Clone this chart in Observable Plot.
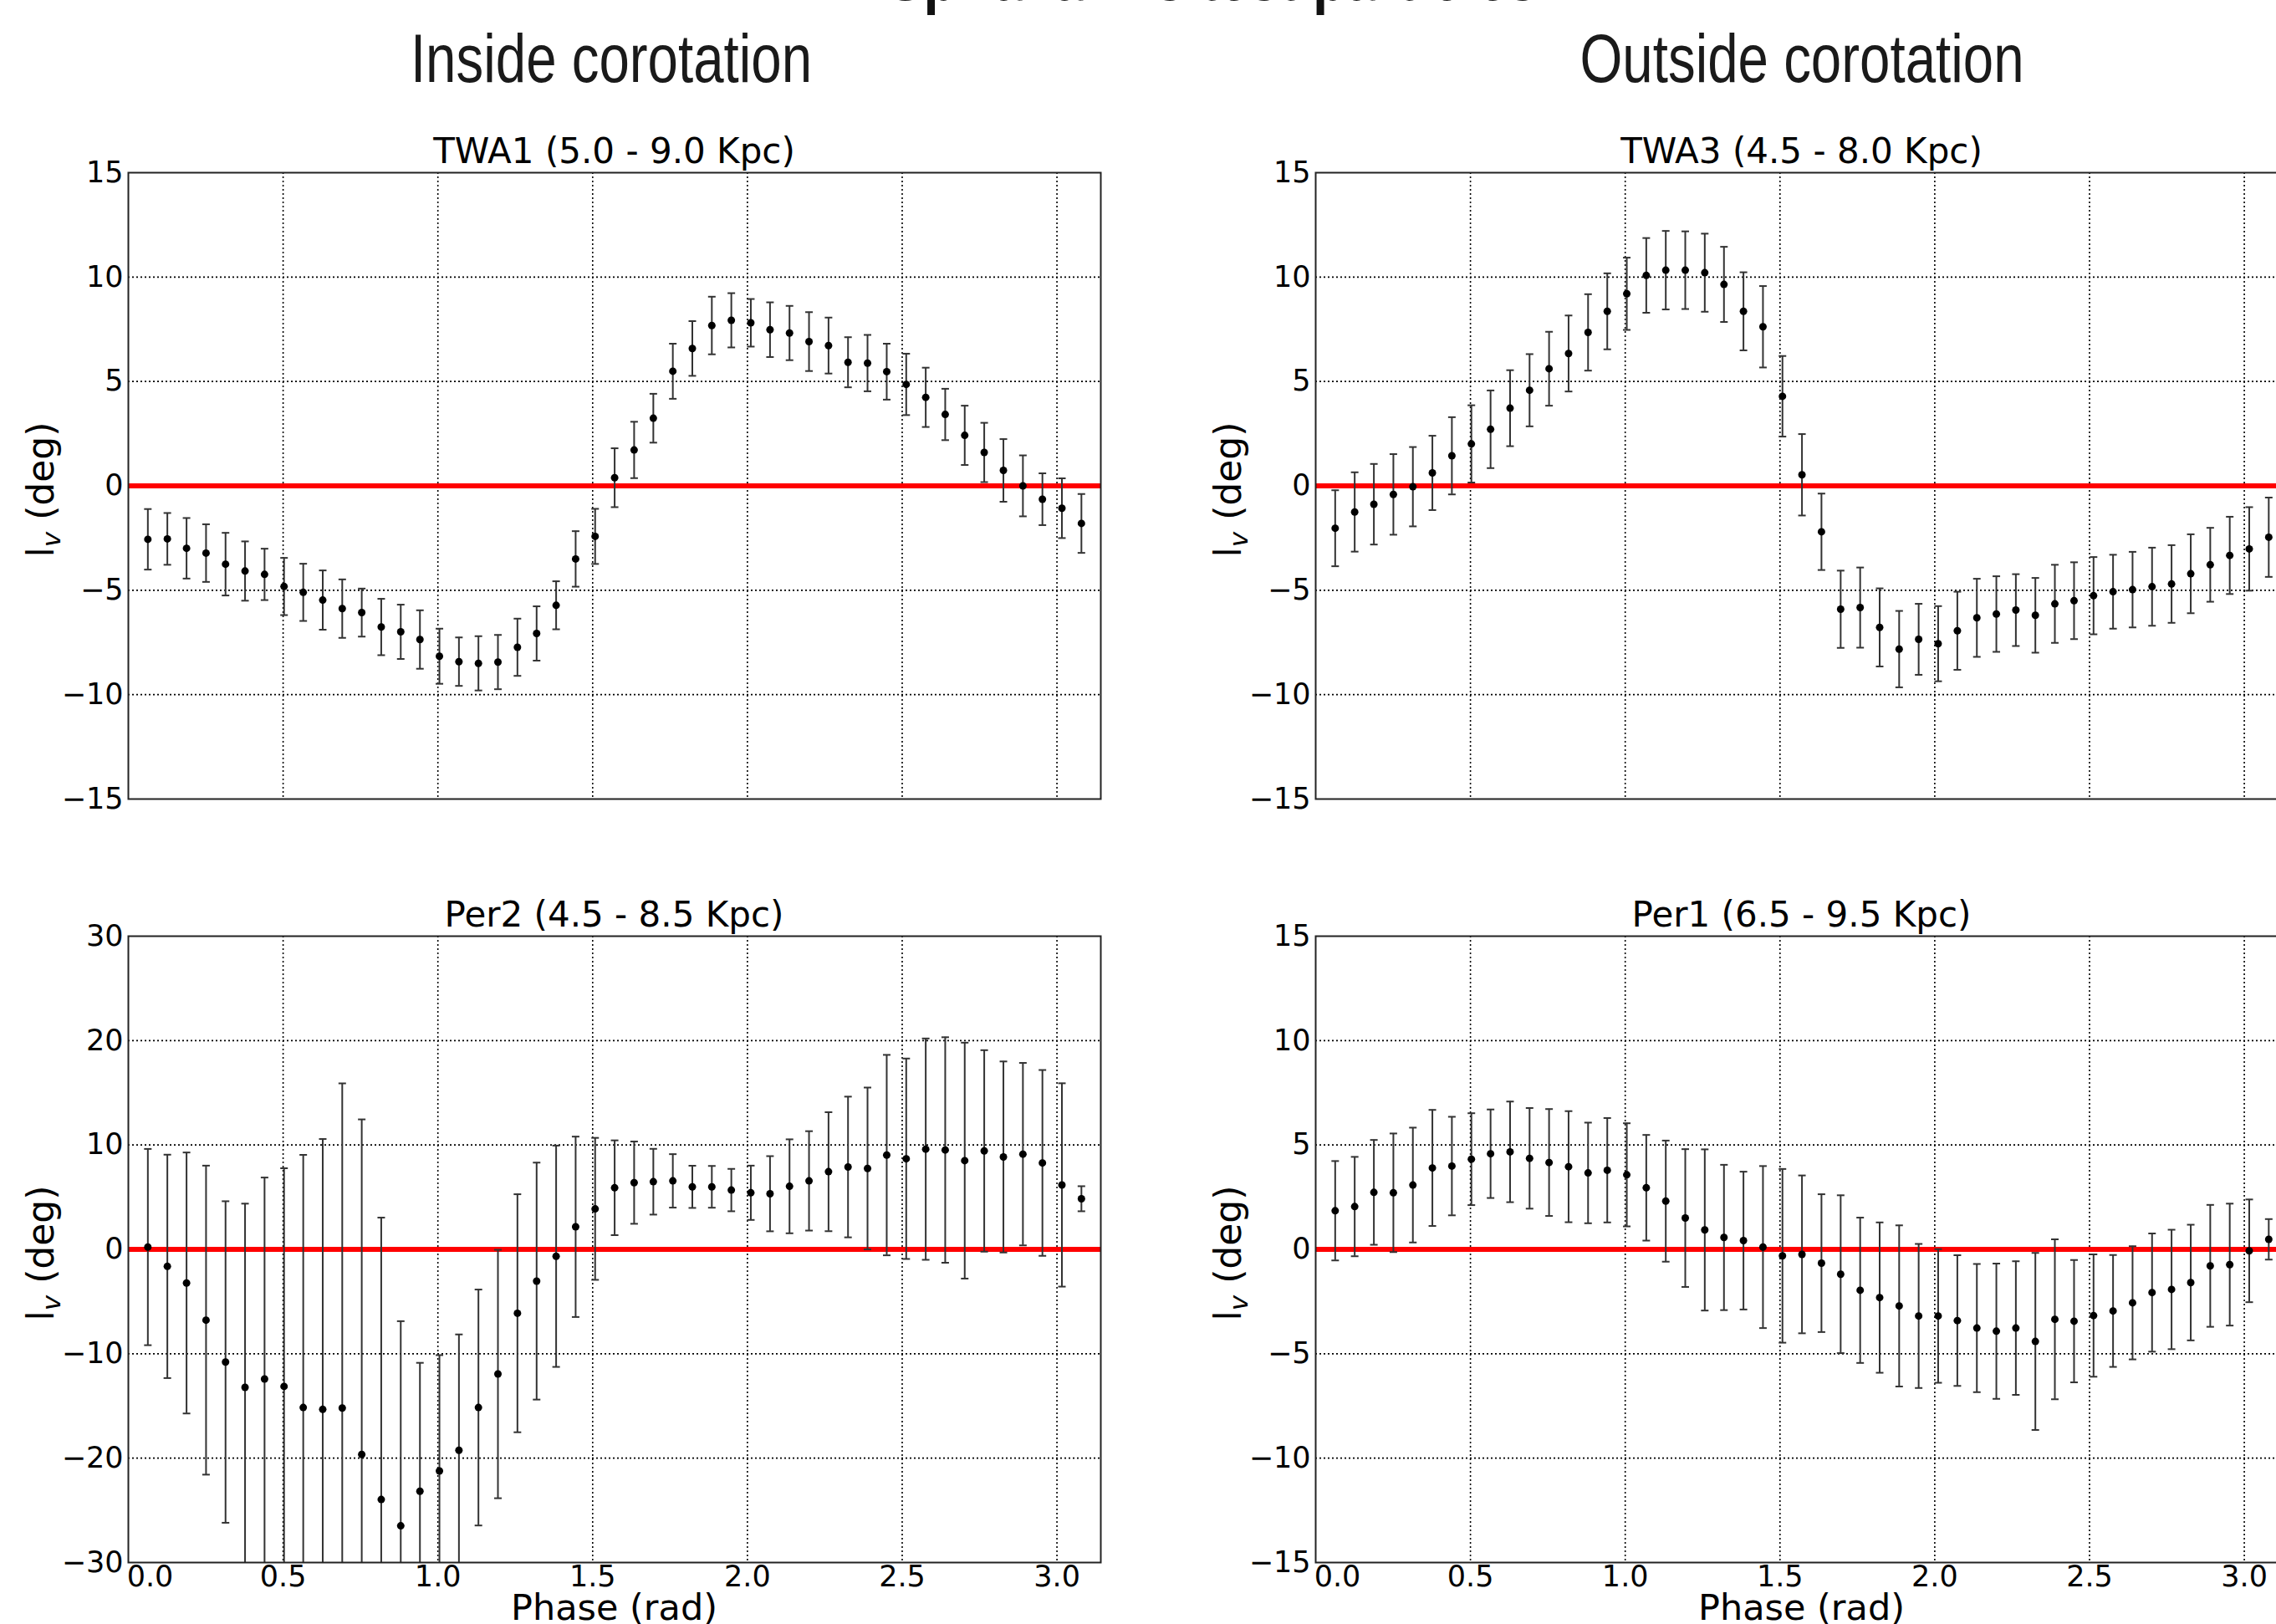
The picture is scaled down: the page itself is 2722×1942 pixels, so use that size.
<!DOCTYPE html>
<html>
<head>
<meta charset="utf-8">
<script src="https://cdn.jsdelivr.net/npm/d3@7"></script>
<script src="https://cdn.jsdelivr.net/npm/@observablehq/plot@0.6"></script>
<style>
  html, body { margin: 0; padding: 0; background: #fff; overflow: hidden; }
  #root { position: relative; width: 2722px; height: 1942px; overflow: hidden; background: #fff; }
  #root > svg { position: absolute; }
</style>
</head>
<body>
<div id="root"></div>
<script>
// ---------- data ----------
const suptitle = "Spiral arms test particles";
const sectionTitles = ["Inside corotation", "Outside corotation"];
const panelTitles = ["TWA1 (5.0 - 9.0 Kpc)", "Per2 (4.5 - 8.5 Kpc)", "TWA3 (4.5 - 8.0 Kpc)", "Per1 (6.5 - 9.5 Kpc)"];
const xLabel = "Phase (rad)";
const xTicks = [0.0, 0.5, 1.0, 1.5, 2.0, 2.5, 3.0];
const yTicks15 = [-15, -10, -5, 0, 5, 10, 15];
const yTicks30 = [-30, -20, -10, 0, 10, 20, 30];

const phase = [0.063, 0.126, 0.188, 0.251, 0.314, 0.377, 0.440, 0.503, 0.565, 0.628,
  0.691, 0.754, 0.817, 0.880, 0.942, 1.005, 1.068, 1.131, 1.194, 1.257,
  1.319, 1.382, 1.445, 1.508, 1.571, 1.634, 1.696, 1.759, 1.822, 1.885,
  1.948, 2.011, 2.073, 2.136, 2.199, 2.262, 2.325, 2.388, 2.450, 2.513,
  2.576, 2.639, 2.702, 2.765, 2.827, 2.890, 2.953, 3.016, 3.079];

const twa1Val = [-2.56, -2.54, -2.99, -3.22, -3.75, -4.08, -4.24, -4.82, -5.10, -5.47,
  -5.88, -6.07, -6.76, -6.99, -7.36, -8.16, -8.42, -8.50, -8.44, -7.73,
  -7.07, -5.72, -3.50, -2.42, 0.39, 1.72, 3.24, 5.49, 6.58, 7.68,
  7.93, 7.81, 7.48, 7.32, 6.91, 6.72, 5.92, 5.88, 5.47, 4.86,
  4.24, 3.42, 2.42, 1.60, 0.74, 0.00, -0.64, -1.07, -1.80];
const twa1Err = [1.45, 1.24, 1.45, 1.38, 1.50, 1.42, 1.23, 1.37, 1.37, 1.42,
  1.40, 1.15, 1.35, 1.30, 1.40, 1.32, 1.16, 1.30, 1.30, 1.37,
  1.30, 1.15, 1.33, 1.32, 1.41, 1.35, 1.17, 1.32, 1.31, 1.38,
  1.30, 1.14, 1.31, 1.30, 1.41, 1.34, 1.20, 1.35, 1.34, 1.47,
  1.42, 1.23, 1.42, 1.42, 1.50, 1.46, 1.24, 1.43, 1.41];

const twa3Val = [-2.03, -1.25, -0.88, -0.41, -0.04, 0.62, 1.44, 2.01, 2.71, 3.72,
  4.58, 5.61, 6.34, 7.35, 8.36, 9.20, 10.08, 10.33, 10.33, 10.21,
  9.65, 8.36, 7.62, 4.29, 0.53, -2.20, -5.91, -5.83, -6.78, -7.82,
  -7.35, -7.56, -6.94, -6.32, -6.14, -5.95, -6.20, -5.65, -5.50, -5.26,
  -5.07, -4.97, -4.83, -4.70, -4.21, -3.78, -3.33, -3.02, -2.46];
const twa3Err = [1.82, 1.90, 1.93, 1.93, 1.90, 1.78, 1.85, 1.85, 1.86, 1.82,
  1.73, 1.77, 1.82, 1.83, 1.82, 1.73, 1.79, 1.88, 1.86, 1.87,
  1.80, 1.87, 1.95, 1.93, 1.95, 1.83, 1.85, 1.92, 1.87, 1.83,
  1.70, 1.80, 1.87, 1.87, 1.81, 1.72, 1.79, 1.87, 1.84, 1.85,
  1.77, 1.81, 1.87, 1.86, 1.89, 1.77, 1.85, 2.00, 1.90];

const per2Val = [0.22, -1.63, -3.22, -6.78, -10.79, -13.22, -12.42, -13.13, -15.15, -15.33,
  -15.20, -19.65, -23.96, -26.48, -23.17, -21.23, -19.25, -15.15, -11.94, -6.12,
  -3.04, -0.66, 2.16, 3.88, 5.90, 6.39, 6.48, 6.56, 5.99, 5.99,
  5.68, 5.42, 5.33, 6.04, 6.56, 7.44, 7.89, 7.75, 9.03, 8.68,
  9.60, 9.52, 8.50, 9.43, 8.85, 9.12, 8.28, 6.17, 4.85];
const per2Err = [9.4, 10.7, 12.5, 14.8, 15.4, 17.6, 19.3, 20.9, 24.2, 25.9,
  31.1, 32.1, 27.0, 19.6, 12.3, 11.1, 11.1, 11.3, 11.9, 11.4,
  11.35, 10.6, 8.64, 6.8, 4.54, 3.94, 3.15, 2.56, 2.02, 2.0,
  2.03, 2.6, 3.6, 4.5, 4.76, 5.7, 6.74, 7.75, 9.6, 9.6,
  10.6, 10.8, 11.3, 9.65, 9.15, 8.74, 8.9, 9.74, 1.2];

const per1Val = [1.85, 2.05, 2.73, 2.71, 3.08, 3.90, 3.99, 4.32, 4.58, 4.67,
  4.36, 4.16, 3.96, 3.66, 3.79, 3.57, 2.95, 2.31, 1.50, 0.93,
  0.57, 0.42, 0.11, -0.31, -0.24, -0.66, -1.19, -1.96, -2.31, -2.71,
  -3.19, -3.19, -3.41, -3.77, -3.92, -3.77, -4.41, -3.35, -3.44, -3.17,
  -2.95, -2.56, -2.07, -1.92, -1.59, -0.79, -0.73, -0.07, 0.48];
const per1Err = [2.38, 2.38, 2.51, 2.84, 2.75, 2.78, 2.36, 2.20, 2.12, 2.41,
  2.41, 2.56, 2.66, 2.41, 2.50, 2.47, 2.53, 2.90, 3.30, 3.86,
  3.48, 3.30, 3.88, 4.16, 3.78, 3.30, 3.78, 3.48, 3.60, 3.86,
  3.45, 3.20, 3.13, 3.07, 3.24, 3.20, 4.24, 3.83, 2.93, 2.93,
  2.68, 2.71, 2.83, 2.86, 2.77, 2.92, 2.92, 2.46, 0.97];

// ---------- layout ----------
const FW = 1163, FH = 749;          // frame size
const ML = 150, MR = 4, MT = 6, MB = 80;
const FONT = "'DejaVu Sans', sans-serif";
const root = document.getElementById("root");

const cap = { draw(ctx) { ctx.moveTo(-4.5, 0); ctx.lineTo(4.5, 0); } };
const gridStyle = { stroke: "#000", strokeOpacity: 1, strokeWidth: 1.6, strokeDasharray: "2,3" };
const barColor = "#333";

function panel({ val, err, yTicks, showX, left, top }) {
  const rows = phase.map((p, i) => ({ p, v: val[i], lo: val[i] - err[i], hi: val[i] + err[i] }));
  const marks = [
    Plot.gridX(xTicks.slice(1), gridStyle),
    Plot.gridY(yTicks.slice(1, -1), gridStyle),
    Plot.ruleY([0], { stroke: "#ff0000", strokeWidth: 6 }),
    Plot.ruleX(rows, { x: "p", y1: "lo", y2: "hi", stroke: barColor, strokeWidth: 2, clip: true }),
    Plot.dot(rows, { x: "p", y: "lo", symbol: cap, fill: "none", stroke: barColor, strokeWidth: 2, clip: true }),
    Plot.dot(rows, { x: "p", y: "hi", symbol: cap, fill: "none", stroke: barColor, strokeWidth: 2, clip: true }),
    Plot.dot(rows, { x: "p", y: "v", r: 4.5, fill: "#000", stroke: "none", clip: true }),
    Plot.frame({ stroke: "#222", strokeWidth: 2 }),
    Plot.axisY(yTicks, { tickSize: 0, tickPadding: 6, fontSize: 35, label: null })
  ];
  if (showX) {
    marks.push(
      Plot.axisX(xTicks.slice(1), { tickSize: 0, tickPadding: 4, fontSize: 35, tickFormat: d => d.toFixed(1), label: null }),
      Plot.axisX([xTicks[0]], { tickSize: 0, tickPadding: 4, fontSize: 35, tickFormat: d => d.toFixed(1), label: null, dx: 26 })
    );
  }
  const svg = Plot.plot({
    width: ML + FW + MR, height: MT + FH + MB,
    marginLeft: ML, marginRight: MR, marginTop: MT, marginBottom: MB,
    x: showX ? { domain: [0, Math.PI] } : { domain: [0, Math.PI], axis: null },
    y: { domain: [yTicks[0], yTicks[yTicks.length - 1]] },
    style: { fontFamily: FONT, fontSize: "35px", color: "#000", background: "transparent", overflow: "visible" },
    marks
  });
  svg.style.left = (left - ML) + "px";
  svg.style.top = (top - MT) + "px";
  root.appendChild(svg);
}

const LX = [153, 1573];
const TY = [206, 1119];

panel({ val: twa1Val, err: twa1Err, yTicks: yTicks15, showX: false, left: LX[0], top: TY[0] });
panel({ val: per2Val, err: per2Err, yTicks: yTicks30, showX: true, left: LX[0], top: TY[1] });
panel({ val: twa3Val, err: twa3Err, yTicks: yTicks15, showX: false, left: LX[1], top: TY[0] });
panel({ val: per1Val, err: per1Err, yTicks: yTicks15, showX: true, left: LX[1], top: TY[1] });

// ---------- text overlay ----------
const ov = d3.select(root).append("svg")
  .attr("width", 2722).attr("height", 1942)
  .style("left", "0px").style("top", "0px").style("pointer-events", "none");

ov.append("text")
  .attr("transform", "translate(1450,0) scale(0.77,1)")
  .attr("text-anchor", "middle")
  .style("font-family", "'Liberation Sans', Arial, sans-serif")
  .style("font-weight", "bold").style("font-size", "85px").attr("fill", "#111")
  .text(suptitle);

[[731, sectionTitles[0]], [2155, sectionTitles[1]]].forEach(([cx, t]) => {
  ov.append("text")
    .attr("transform", `translate(${cx},98) scale(0.77,0.97)`)
    .attr("text-anchor", "middle")
    .style("font-family", "'Liberation Sans', Arial, sans-serif")
    .style("font-size", "85px").attr("fill", "#1a1a1a")
    .text(t);
});

const panelsPos = [[LX[0], TY[0]], [LX[0], TY[1]], [LX[1], TY[0]], [LX[1], TY[1]]];
panelsPos.forEach(([x0, y0], i) => {
  const cx = x0 + FW / 2;
  ov.append("text")
    .attr("x", cx).attr("y", y0 - 11)
    .attr("text-anchor", "middle")
    .style("font-family", FONT).style("font-size", "42px").attr("fill", "#000")
    .text(panelTitles[i]);
  // y label  l_v (deg)
  const yl = ov.append("text")
    .attr("transform", `translate(${x0 - 89},${y0 + FH / 2 + 5}) rotate(-90)`)
    .attr("text-anchor", "middle")
    .style("font-family", FONT).style("font-size", "44px").attr("fill", "#000");
  yl.append("tspan").text("l");
  yl.append("tspan").attr("dy", 8).style("font-style", "italic").style("font-size", "31px").text("v");
  yl.append("tspan").attr("dy", -8).text(" (deg)");
  if (i === 1 || i === 3) {
    ov.append("text")
      .attr("x", cx).attr("y", 1937)
      .attr("text-anchor", "middle")
      .style("font-family", FONT).style("font-size", "43px").attr("fill", "#000")
      .text(xLabel);
  }
});
</script>
</body>
</html>
